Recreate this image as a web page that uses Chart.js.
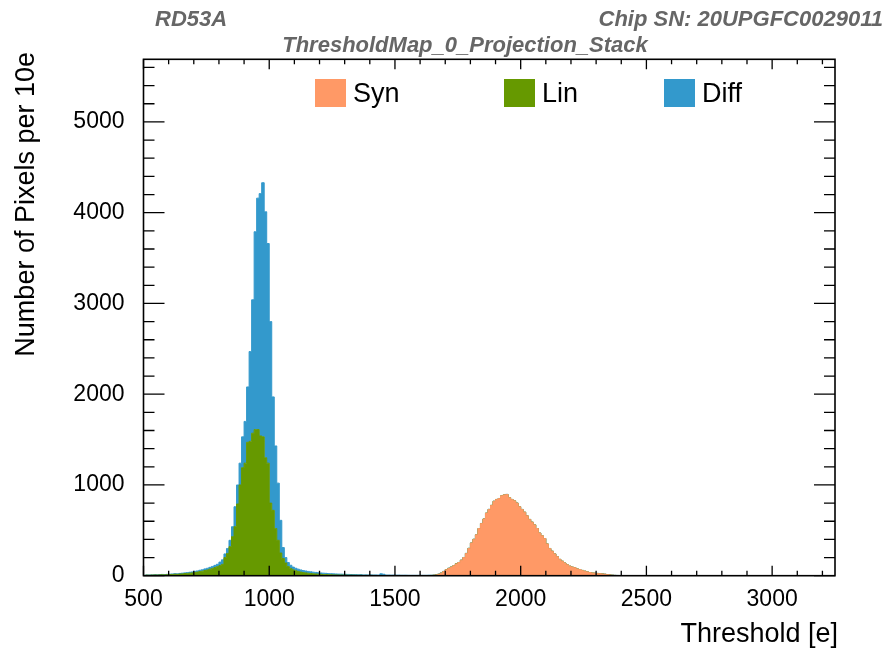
<!DOCTYPE html>
<html>
<head>
<meta charset="utf-8">
<title>ThresholdMap_0_Projection_Stack</title>
<script src="https://cdn.jsdelivr.net/npm/chart.js@4.4.1/dist/chart.umd.min.js"></script>
<style>
  html, body { margin: 0; padding: 0; background: #fff; }
  #wrap { width: 889px; height: 651px; }
</style>
</head>
<body>
<div id="wrap"><canvas id="thrChart" width="889" height="651"></canvas></div>
<script>
// histogram binning: 10e per bin, from 500e up to 3250e (275 bins)
var binLow = 500;
var binWidth = 10;

var seriesNames = ['Syn', 'Lin', 'Diff'];
var seriesColors = ['#ff9966', '#669900', '#3399cc'];

// one row = 100e (10 bins)
var synCounts = [
  0,0,0,0,0,0,0,0,0,0,            // 500
  0,0,0,0,0,0,0,0,0,0,            // 600
  0,0,0,0,0,0,0,0,0,0,            // 700
  0,0,0,0,0,0,0,0,0,0,            // 800
  0,0,0,0,0,0,0,0,0,0,            // 900
  0,0,0,0,0,0,0,0,0,0,            // 1000
  0,0,0,0,0,0,0,0,0,0,            // 1100
  0,0,0,0,0,0,0,0,0,0,            // 1200
  0,0,0,0,0,0,0,0,0,0,            // 1300
  0,0,0,0,0,0,0,0,0,0,            // 1400
  0,0,0,0,0,0,0,0,0,0,            // 1500
  0,0,1,1,2,4,8,15,28,45,         // 1600
  65,80,95,110,130,145,170,200,245,300,     // 1700
  360,400,450,520,575,625,690,730,775,820,  // 1800
  840,850,880,890,895,860,840,825,800,760,  // 1900
  730,700,660,620,590,560,520,470,440,410,  // 2000
  350,300,270,240,210,180,160,140,120,105,  // 2100
  95,88,75,68,58,50,42,35,30,28,  // 2200
  25,22,20,16,12,8,5,3,2,1,       // 2300
  0,0,0,0,0,0,0,0,0,0,            // 2400
  0,0,0,0,0,0,0,0,0,0,            // 2500
  0,0,0,0,0,0,0,0,0,0,            // 2600
  0,0,0,0,0,0,0,0,0,0,            // 2700
  0,0,0,0,0,0,0,0,0,0,            // 2800
  0,0,0,0,0,0,0,0,0,0,            // 2900
  0,0,0,0,0,0,0,0,0,0,            // 3000
  0,0,0,0,0,0,0,0,0,0,            // 3100
  0,0,0,0,0                       // 3200
];

var linCounts = [
  4,6,5,7,8,7,9,10,9,11,          // 500
  12,14,16,15,18,20,23,25,28,31,  // 600
  36,40,45,50,57,63,72,80,90,100, // 700
  112,125,200,245,320,430,540,790,1000,1190,     // 800
  1240,1470,1480,1570,1610,1610,1540,1530,1300,1240, // 900
  800,720,520,390,250,190,140,100,80,65,  // 1000
  55,47,40,35,31,27,24,21,19,17,  // 1100
  15,13,12,11,10,9,8,7,7,6,       // 1200
  6,5,5,5,4,4,4,3,3,3,            // 1300
  3,3,2,2,3,2,2,2,2,2,            // 1400
  2,2,1,2,1,1,1,1,1,1,            // 1500
  1,1,1,1,1,1,1,1,1,1,            // 1600
  1,1,1,0,1,0,1,0,0,1,            // 1700
  0,1,0,0,0,0,0,0,0,0,            // 1800
  0,0,0,0,0,0,0,0,0,0,            // 1900
  0,0,0,0,0,0,0,0,0,0,            // 2000
  0,0,0,0,0,0,0,0,0,0,            // 2100
  0,0,0,0,0,0,0,0,0,0,            // 2200
  0,0,0,0,0,0,0,0,0,0,            // 2300
  0,0,0,0,0,0,0,0,0,0,            // 2400
  0,0,0,0,0,0,0,0,0,0,            // 2500
  0,0,0,0,0,0,0,0,0,0,            // 2600
  0,0,0,0,0,0,0,0,0,0,            // 2700
  0,0,0,0,0,0,0,0,0,0,            // 2800
  0,0,0,0,0,0,0,0,0,0,            // 2900
  0,0,0,0,0,0,0,0,0,0,            // 3000
  0,0,0,0,0,0,0,0,0,0,            // 3100
  0,0,0,0,0                       // 3200
];

var diffCounts = [
  2,2,3,2,3,3,3,4,4,4,            // 500
  5,5,6,6,7,8,8,9,10,11,          // 600
  12,13,15,16,18,19,20,22,24,26,  // 700
  38,50,40,55,70,110,220,210,240,340,         // 800
  460,610,990,1470,2180,2550,2670,2800,2710,2420, // 900
  2000,1250,910,630,360,120,60,45,35,30,      // 1000
  27,25,24,22,21,20,19,18,17,16,  // 1100
  15,15,14,13,12,12,11,11,10,10,  // 1200
  9,9,8,8,7,7,7,6,6,6,            // 1300
  6,5,6,5,18,14,5,5,4,5,          // 1400
  4,4,4,3,4,3,3,3,3,3,            // 1500
  3,3,2,3,2,2,2,2,2,2,            // 1600
  2,2,1,2,1,1,1,1,1,1,            // 1700
  1,1,1,0,1,1,0,1,0,1,            // 1800
  0,1,0,0,1,0,0,0,1,0,            // 1900
  0,0,0,0,0,0,0,0,0,0,            // 2000
  0,0,0,0,0,0,0,0,0,0,            // 2100
  0,0,0,0,0,0,0,0,0,0,            // 2200
  0,0,1,1,1,1,2,1,1,0,            // 2300
  0,0,0,0,0,0,0,0,0,0,            // 2400
  0,0,0,0,0,0,0,0,0,0,            // 2500
  0,0,0,0,0,0,0,0,0,0,            // 2600
  0,0,0,0,0,0,0,0,0,0,            // 2700
  0,0,0,0,0,0,0,0,0,0,            // 2800
  0,0,0,0,0,0,0,0,0,0,            // 2900
  0,0,0,0,0,0,0,0,0,0,            // 3000
  0,0,0,0,0,0,0,0,0,0,            // 3100
  0,0,0,0,0                       // 3200
];

var xTickLabels = [500, 1000, 1500, 2000, 2500, 3000];
var yTickLabels = [0, 1000, 2000, 3000, 4000, 5000];

var xMin = 500, xMax = 3250;
var yMin = 0, yMax = 5690;

// bin centres used as x positions of the stepped lines
var binCenters = [];
for (var i = 0; i < synCounts.length; i++) {
  binCenters.push(binLow + binWidth * (i + 0.5));
}

var fontFam = "'Liberation Sans', Arial, Helvetica, sans-serif";

// ROOT style frame: inward ticks on all four sides, titles, legend
var rootDecor = {
  id: 'rootDecor',
  afterDraw: function(chart) {
    var ctx = chart.ctx;
    var a = chart.chartArea;
    var xs = chart.scales.x, ys = chart.scales.y;
    ctx.save();

    ctx.strokeStyle = '#000';
    ctx.lineWidth = 1.6;
    ctx.strokeRect(a.left, a.top, a.right - a.left, a.bottom - a.top);

    ctx.lineWidth = 1.3;
    ctx.beginPath();
    for (var v = xMin; v <= xMax; v += 100) {
      var px = xs.getPixelForValue(v);
      var len = (v % 500 === 0) ? 10 : 5;
      ctx.moveTo(px, a.bottom); ctx.lineTo(px, a.bottom - len);
      ctx.moveTo(px, a.top); ctx.lineTo(px, a.top + len);
    }
    for (var w = yMin; w <= yMax; w += 200) {
      var py = ys.getPixelForValue(w);
      var l2 = (w % 1000 === 0) ? 21 : 11;
      ctx.moveTo(a.left, py); ctx.lineTo(a.left + l2, py);
      ctx.moveTo(a.right, py); ctx.lineTo(a.right - l2, py);
    }
    ctx.stroke();

    // header texts
    ctx.fillStyle = '#666666';
    ctx.font = 'italic bold 22px ' + fontFam;
    ctx.textBaseline = 'alphabetic';
    ctx.textAlign = 'left';
    ctx.fillText('RD53A', 155, 26);
    ctx.textAlign = 'right';
    ctx.fillText('Chip SN: 20UPGFC0029011', 883, 26);
    ctx.textAlign = 'center';
    ctx.fillText('ThresholdMap_0_Projection_Stack', 465, 52);

    // axis titles
    ctx.fillStyle = '#000';
    ctx.font = '27px ' + fontFam;
    ctx.textAlign = 'right';
    ctx.fillText('Threshold [e]', 838, 642);
    ctx.save();
    ctx.translate(34, 52);
    ctx.rotate(-Math.PI / 2);
    ctx.fillText('Number of Pixels per 10e', 0, 0);
    ctx.restore();

    // legend
    var boxX = [315, 504, 664];
    ctx.textAlign = 'left';
    for (var k = 0; k < seriesNames.length; k++) {
      ctx.fillStyle = seriesColors[k];
      ctx.fillRect(boxX[k], 79, 31, 28);
      ctx.fillStyle = '#000';
      ctx.fillText(seriesNames[k], boxX[k] + 38, 102);
    }
    ctx.restore();
  }
};

var countsList = [synCounts, linCounts, diffCounts];
var datasets = [];
for (var s = 0; s < seriesNames.length; s++) {
  datasets.push({
    label: seriesNames[s],
    data: countsList[s],
    backgroundColor: seriesColors[s],
    borderColor: seriesColors[s],
    borderWidth: 1,
    pointRadius: 0,
    stepped: 'middle',
    fill: s === 0 ? 'origin' : '-1'
  });
}

function plainLabel(value) { return String(value); }

var ctx = document.getElementById('thrChart').getContext('2d');
var thrChart = new Chart(ctx, {
  type: 'line',
  data: { labels: binCenters, datasets: datasets },
  options: {
    responsive: false,
    animation: false,
    layout: { padding: { top: 59.3, right: 54, left: 0, bottom: 0 } },
    plugins: {
      legend: { display: false },
      tooltip: { enabled: false },
      title: { display: false }
    },
    scales: {
      x: {
        type: 'linear',
        min: xMin,
        max: xMax,
        grid: { display: false },
        border: { display: false },
        ticks: {
          color: '#000',
          font: { family: fontFam, size: 23 },
          padding: 2,
          maxRotation: 0,
          autoSkip: false,
          callback: plainLabel
        },
        afterBuildTicks: function(scale) {
          scale.ticks = xTickLabels.map(function(v) { return { value: v }; });
        },
        afterFit: function(scale) { scale.height = 75.3; }
      },
      y: {
        stacked: true,
        min: yMin,
        max: yMax,
        grid: { display: false },
        border: { display: false },
        ticks: {
          color: '#000',
          font: { family: fontFam, size: 23 },
          padding: 11,
          callback: plainLabel
        },
        afterBuildTicks: function(scale) {
          scale.ticks = yTickLabels.map(function(v) { return { value: v }; });
        },
        afterFit: function(scale) { scale.width = 143.5; }
      }
    }
  },
  plugins: [rootDecor]
});
</script>
</body>
</html>
